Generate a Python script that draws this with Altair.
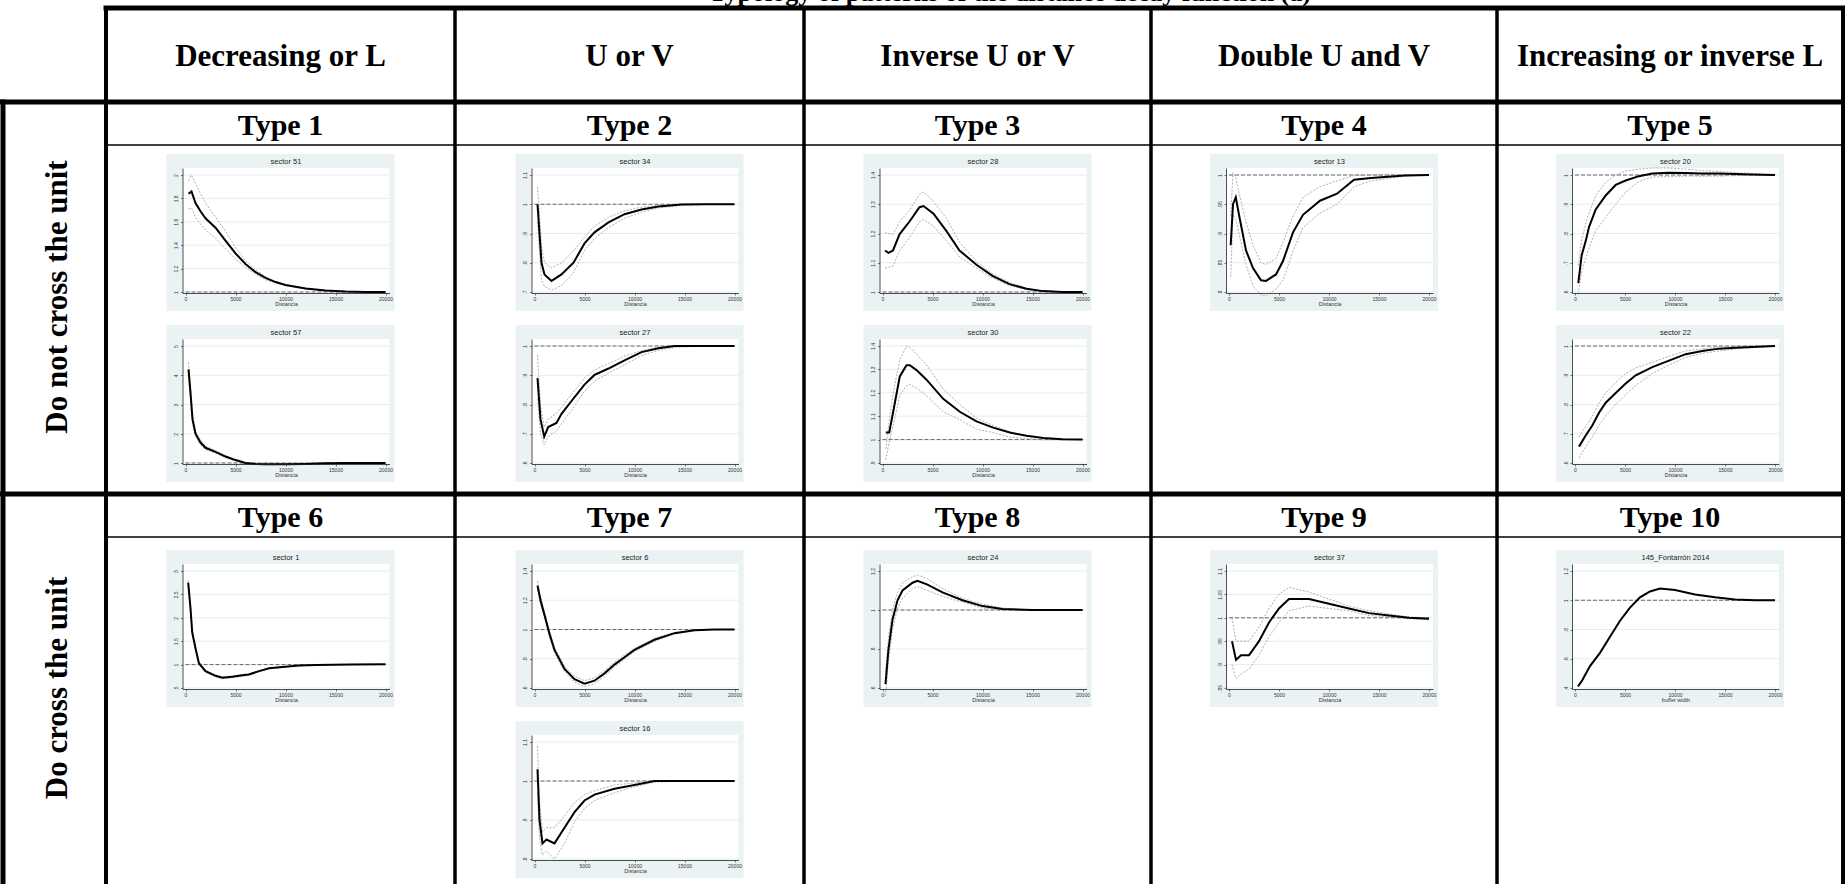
import altair as alt
import pandas as pd

CANVAS_W, CANVAS_H = 1845, 884

# ---------------------------------------------------------------- table text
figure_title = "Typology of patterns of the distance decay function (a)"
col_titles = ["Decreasing or L", "U or V", "Inverse U or V",
              "Double U and V", "Increasing or inverse L"]
row_titles = ["Do not cross the unit", "Do cross the unit"]
type_labels = ["Type 1", "Type 2", "Type 3", "Type 4", "Type 5",
               "Type 6", "Type 7", "Type 8", "Type 9", "Type 10"]

# ---------------------------------------------------------------- small graphs
X_TICKS = [0, 5000, 10000, 15000, 20000]

panels = [
    # row 0 -- do not cross the unit
    dict(title="sector 51", row=0, col=0, slot=0, xtitle="Distancia",
         yticks=[1, 1.2, 1.4, 1.6, 1.8, 2],
         dist=[300, 600, 1000, 1500, 2000, 3000, 4000, 5000, 6000, 7000, 8000, 9000, 10000, 12000, 14000, 16000, 18000, 20000],
         main=[1.84, 1.86, 1.76, 1.69, 1.63, 1.55, 1.44, 1.33, 1.24, 1.17, 1.12, 1.085, 1.06, 1.03, 1.012, 1.004, 1.0, 1.0],
         upper=[1.95, 2.0, 1.93, 1.84, 1.76, 1.64, 1.52, 1.38, 1.27, 1.19, 1.13, 1.09, 1.065, 1.034, 1.014, 1.005, 1.001, 1.0],
         lower=[1.71, 1.72, 1.64, 1.58, 1.53, 1.46, 1.37, 1.28, 1.21, 1.15, 1.105, 1.078, 1.055, 1.026, 1.01, 1.003, 0.999, 1.0]),
    dict(title="sector 57", row=0, col=0, slot=1, xtitle="Distancia",
         yticks=[1, 2, 3, 4, 5],
         dist=[300, 500, 700, 1000, 1500, 2000, 3000, 4000, 5000, 6000, 7000, 8000, 10000, 12000, 14000, 16000, 18000, 20000],
         main=[4.2, 3.4, 2.5, 2.0, 1.7, 1.52, 1.38, 1.22, 1.1, 1.0, 0.97, 0.96, 0.96, 0.97, 0.99, 1.0, 1.0, 1.0],
         upper=[4.45, 3.65, 2.65, 2.1, 1.78, 1.58, 1.42, 1.26, 1.12, 1.02, 0.99, 0.98, 0.98, 0.985, 1.0, 1.005, 1.003, 1.0],
         lower=[3.95, 3.2, 2.35, 1.9, 1.62, 1.46, 1.34, 1.18, 1.07, 0.98, 0.955, 0.945, 0.945, 0.955, 0.98, 0.995, 0.998, 1.0]),
    dict(title="sector 34", row=0, col=1, slot=0, xtitle="Distancia",
         yticks=[0.7, 0.8, 0.9, 1, 1.1],
         dist=[300, 500, 700, 1000, 1700, 2700, 3900, 5000, 6000, 7400, 9000, 10700, 12400, 14700, 17000, 20000],
         main=[1.0, 0.9, 0.8, 0.76, 0.738, 0.76, 0.80, 0.866, 0.904, 0.938, 0.966, 0.982, 0.992, 0.999, 1.0, 1.0],
         upper=[1.06, 0.97, 0.86, 0.8, 0.782, 0.80, 0.84, 0.888, 0.925, 0.955, 0.978, 0.99, 0.996, 1.0, 1.0, 1.0],
         lower=[0.94, 0.84, 0.74, 0.72, 0.706, 0.722, 0.765, 0.843, 0.882, 0.921, 0.952, 0.973, 0.987, 0.996, 0.999, 1.0]),
    dict(title="sector 27", row=0, col=1, slot=1, xtitle="Distancia",
         yticks=[0.6, 0.7, 0.8, 0.9, 1],
         dist=[300, 600, 970, 1370, 2200, 2700, 3700, 5000, 6000, 7400, 9000, 10700, 12400, 14000, 17000, 20000],
         main=[0.89, 0.75, 0.69, 0.723, 0.737, 0.768, 0.812, 0.868, 0.901, 0.923, 0.951, 0.979, 0.992, 1.0, 1.0, 1.0],
         upper=[0.97, 0.8, 0.723, 0.75, 0.77, 0.79, 0.835, 0.89, 0.918, 0.94, 0.965, 0.984, 0.997, 1.0, 1.0, 1.0],
         lower=[0.82, 0.7, 0.662, 0.69, 0.71, 0.734, 0.78, 0.846, 0.88, 0.907, 0.935, 0.968, 0.985, 0.995, 1.0, 1.0]),
    dict(title="sector 28", row=0, col=2, slot=0, xtitle="Distancia",
         yticks=[1, 1.1, 1.2, 1.3, 1.4],
         dist=[250, 600, 1050, 1700, 2700, 3700, 4100, 5100, 6400, 7700, 9400, 11000, 12700, 14400, 16000, 18000, 20000],
         main=[1.142, 1.134, 1.142, 1.197, 1.241, 1.29, 1.294, 1.268, 1.208, 1.142, 1.093, 1.055, 1.027, 1.011, 1.003, 1.0, 1.0],
         upper=[1.203, 1.2, 1.197, 1.24, 1.279, 1.334, 1.342, 1.31, 1.252, 1.17, 1.104, 1.062, 1.033, 1.013, 1.005, 1.001, 1.0],
         lower=[1.082, 1.085, 1.088, 1.14, 1.186, 1.24, 1.247, 1.225, 1.175, 1.12, 1.082, 1.048, 1.022, 1.008, 1.002, 0.999, 1.0]),
    dict(title="sector 30", row=0, col=2, slot=1, xtitle="Distancia",
         yticks=[0.9, 1, 1.1, 1.2, 1.3, 1.4],
         dist=[330, 670, 1070, 1730, 2400, 2730, 3400, 4400, 6070, 7730, 9400, 11070, 12730, 14400, 16070, 18000, 20000],
         main=[1.03, 1.03, 1.119, 1.27, 1.318, 1.318, 1.297, 1.256, 1.174, 1.119, 1.078, 1.051, 1.03, 1.016, 1.007, 1.002, 1.0],
         upper=[0.96, 1.08, 1.2, 1.34, 1.40, 1.395, 1.365, 1.32, 1.215, 1.15, 1.092, 1.06, 1.033, 1.018, 1.008, 1.002, 1.0],
         lower=[0.914, 0.99, 1.06, 1.19, 1.23, 1.236, 1.22, 1.188, 1.119, 1.085, 1.044, 1.03, 1.01, 1.005, 0.999, 0.999, 1.0]),
    dict(title="sector 13", row=0, col=3, slot=0, xtitle="Distancia",
         yticks=[0.8, 0.85, 0.9, 0.95, 1],
         dist=[170, 400, 680, 1000, 1700, 2400, 3200, 3700, 4700, 5400, 6400, 7400, 9100, 10800, 12500, 14200, 17600, 20000],
         main=[0.88, 0.95, 0.962, 0.932, 0.871, 0.841, 0.82, 0.819, 0.83, 0.853, 0.902, 0.932, 0.956, 0.968, 0.992, 0.995, 0.999, 1.0],
         upper=[0.93, 1.004, 0.995, 0.97, 0.92, 0.88, 0.85, 0.847, 0.857, 0.885, 0.93, 0.962, 0.98, 0.99, 0.999, 1.0, 1.0, 1.0],
         lower=[0.826, 0.932, 0.925, 0.9, 0.847, 0.81, 0.795, 0.793, 0.805, 0.82, 0.87, 0.91, 0.935, 0.95, 0.98, 0.99, 0.998, 1.0]),
    dict(title="sector 20", row=0, col=4, slot=0, xtitle="Distancia",
         yticks=[0.6, 0.7, 0.8, 0.9, 1],
         dist=[330, 670, 1070, 1400, 2070, 3070, 4070, 5070, 6400, 7730, 9400, 11070, 12730, 14400, 17730, 20000],
         main=[0.63, 0.726, 0.774, 0.822, 0.882, 0.93, 0.966, 0.981, 0.996, 1.005, 1.008, 1.007, 1.005, 1.005, 1.002, 1.0],
         upper=[0.69, 0.78, 0.834, 0.87, 0.93, 0.975, 1.0, 1.014, 1.02, 1.024, 1.024, 1.02, 1.015, 1.012, 1.005, 1.0],
         lower=[0.594, 0.67, 0.714, 0.75, 0.81, 0.855, 0.9, 0.942, 0.978, 0.993, 0.995, 0.996, 0.996, 0.996, 1.0, 1.0]),
    dict(title="sector 22", row=0, col=4, slot=1, xtitle="Distancia",
         yticks=[0.6, 0.7, 0.8, 0.9, 1],
         dist=[400, 1070, 1730, 2400, 3070, 4070, 5070, 6070, 7730, 9400, 11070, 12730, 14400, 16070, 17730, 20000],
         main=[0.656, 0.694, 0.728, 0.772, 0.806, 0.839, 0.872, 0.9, 0.928, 0.95, 0.972, 0.983, 0.991, 0.994, 0.997, 1.0],
         upper=[0.689, 0.725, 0.761, 0.805, 0.839, 0.875, 0.906, 0.925, 0.944, 0.965, 0.983, 0.99, 0.997, 0.998, 0.999, 1.0],
         lower=[0.617, 0.655, 0.689, 0.728, 0.761, 0.8, 0.833, 0.865, 0.906, 0.935, 0.961, 0.975, 0.983, 0.99, 0.994, 1.0]),
    # row 1 -- do cross the unit
    dict(title="sector 1", row=1, col=0, slot=0, xtitle="Distancia",
         yticks=[0.5, 1, 1.5, 2, 2.5, 3],
         dist=[270, 500, 670, 1000, 1340, 2000, 3000, 3680, 4680, 5690, 6350, 7360, 8360, 9700, 11370, 13040, 16390, 20000],
         main=[2.75, 2.2, 1.69, 1.35, 1.03, 0.86, 0.76, 0.72, 0.74, 0.77, 0.79, 0.86, 0.92, 0.95, 0.98, 0.993, 1.0, 1.005],
         upper=[2.8, 2.25, 1.73, 1.38, 1.06, 0.88, 0.78, 0.74, 0.76, 0.79, 0.81, 0.875, 0.93, 0.96, 0.985, 0.996, 1.002, 1.006],
         lower=[2.7, 2.15, 1.65, 1.32, 1.0, 0.84, 0.74, 0.70, 0.72, 0.75, 0.77, 0.845, 0.91, 0.94, 0.975, 0.99, 0.998, 1.004]),
    dict(title="sector 6", row=1, col=1, slot=0, xtitle="Distancia",
         yticks=[0.6, 0.8, 1, 1.2, 1.4],
         dist=[300, 600, 1000, 1500, 2000, 3000, 4000, 5000, 6000, 7000, 8000, 9000, 10000, 12000, 14000, 16000, 18000, 20000],
         main=[1.3, 1.2, 1.1, 0.97, 0.86, 0.73, 0.66, 0.63, 0.65, 0.7, 0.76, 0.81, 0.86, 0.93, 0.975, 0.995, 1.0, 1.0],
         upper=[1.33, 1.23, 1.12, 0.99, 0.88, 0.75, 0.68, 0.65, 0.67, 0.72, 0.775, 0.825, 0.87, 0.94, 0.98, 0.997, 1.0, 1.0],
         lower=[1.27, 1.17, 1.08, 0.95, 0.84, 0.71, 0.64, 0.61, 0.63, 0.68, 0.745, 0.795, 0.85, 0.92, 0.97, 0.993, 1.0, 1.0]),
    dict(title="sector 16", row=1, col=1, slot=1, xtitle="Distancia",
         yticks=[0.8, 0.9, 1, 1.1],
         dist=[300, 500, 800, 1200, 2000, 3000, 4000, 5000, 6000, 8000, 10000, 12000, 15000, 20000],
         main=[1.03, 0.9, 0.84, 0.85, 0.84, 0.88, 0.92, 0.95, 0.965, 0.98, 0.99, 1.0, 1.0, 1.0],
         upper=[1.09, 0.95, 0.87, 0.88, 0.88, 0.91, 0.945, 0.965, 0.975, 0.99, 0.995, 1.0, 1.0, 1.0],
         lower=[0.97, 0.85, 0.81, 0.82, 0.80, 0.84, 0.895, 0.93, 0.95, 0.97, 0.985, 0.997, 1.0, 1.0]),
    dict(title="sector 24", row=1, col=2, slot=0, xtitle="Distancia",
         yticks=[0.6, 0.8, 1, 1.2],
         dist=[300, 600, 1000, 1500, 2000, 3000, 3500, 4500, 6000, 8000, 10000, 12000, 15000, 20000],
         main=[0.62, 0.8, 0.95, 1.05, 1.1, 1.14, 1.15, 1.13, 1.09, 1.05, 1.02, 1.005, 1.0, 1.0],
         upper=[0.68, 0.86, 1.0, 1.09, 1.14, 1.17, 1.18, 1.16, 1.11, 1.06, 1.03, 1.01, 1.0, 1.0],
         lower=[0.56, 0.74, 0.9, 1.01, 1.06, 1.11, 1.12, 1.10, 1.07, 1.04, 1.01, 1.0, 1.0, 1.0]),
    dict(title="sector 37", row=1, col=3, slot=0, xtitle="Distancia",
         yticks=[0.85, 0.9, 0.95, 1, 1.05, 1.1],
         dist=[300, 700, 1200, 2000, 3000, 4000, 5000, 6000, 7000, 8000, 10000, 12000, 14000, 16000, 18000, 20000],
         main=[0.95, 0.91, 0.92, 0.92, 0.95, 0.99, 1.02, 1.04, 1.04, 1.04, 1.03, 1.02, 1.01, 1.005, 1.0, 0.998],
         upper=[1.0, 0.95, 0.95, 0.95, 0.98, 1.02, 1.05, 1.065, 1.06, 1.055, 1.04, 1.025, 1.015, 1.008, 1.002, 1.0],
         lower=[0.9, 0.87, 0.88, 0.89, 0.92, 0.96, 0.99, 1.015, 1.02, 1.025, 1.02, 1.015, 1.005, 1.002, 0.998, 0.996]),
    dict(title="145_Fontarrón 2014", row=1, col=4, slot=0, xtitle="buffer width",
         yticks=[0.4, 0.6, 0.8, 1, 1.2],
         dist=[300, 700, 1500, 2500, 3500, 4500, 5500, 6500, 7500, 8500, 10000, 12000, 14000, 16000, 18000, 20000],
         main=[0.41, 0.45, 0.55, 0.64, 0.75, 0.86, 0.95, 1.02, 1.06, 1.08, 1.07, 1.04, 1.02, 1.005, 1.0, 1.0],
         upper=None, lower=None),
]

# ---------------------------------------------------------------- layout
COL_EDGES = [106, 455, 804, 1151, 1497, 1843]
HEAD_TOP, HEAD_BOTTOM = 8, 102
ROW_SPLIT = 494
TYPE_RULES = [145, 537]
TYPE_LABEL_Y = [126, 518]
ROW_LABEL_Y = [297, 688]
BOX_W, BOX_H = 228, 157
BOX_TOPS = [[154, 325], [550, 721]]

GRAPH_BG = "#eaf2f3"
GRID_COL = "#dfe8ea"
SERIF = "Liberation Serif"
SANS = "Liberation Sans"


def col_center(c):
    return (COL_EDGES[c] + COL_EDGES[c + 1]) / 2


def geometry(p):
    left = col_center(p["col"]) - BOX_W / 2
    top = BOX_TOPS[p["row"]][p["slot"]]
    return dict(box_l=left, box_t=top, box_r=left + BOX_W, box_b=top + BOX_H,
                pl=left + 16, pr=left + 223, pt=top + 14, pb=top + 139)


def px(field):
    return alt.X(field, type="quantitative", scale=None, axis=None)


def py(field):
    return alt.Y(field, type="quantitative", scale=None, axis=None)


# table rules
rules = []
for e in COL_EDGES:
    rules.append(dict(x=e, x2=e, y=HEAD_TOP, y2=CANVAS_H, w=4 if e in (106, 1843) else 3.5))
rules += [
    dict(x=COL_EDGES[0], x2=CANVAS_W, y=HEAD_TOP, y2=HEAD_TOP, w=5),
    dict(x=0, x2=CANVAS_W, y=HEAD_BOTTOM, y2=HEAD_BOTTOM, w=5),
    dict(x=0, x2=CANVAS_W, y=ROW_SPLIT, y2=ROW_SPLIT, w=5),
    dict(x=3, x2=3, y=HEAD_BOTTOM, y2=CANVAS_H, w=5),
]
for ty in TYPE_RULES:
    rules.append(dict(x=COL_EDGES[0], x2=CANVAS_W, y=ty, y2=ty, w=1.6))
rules_df = pd.DataFrame(rules)

table = alt.Chart(rules_df).mark_rule(color="black", strokeCap="square").encode(
    x=px("x"), x2="x2", y=py("y"), y2="y2",
    strokeWidth=alt.StrokeWidth("w:Q", scale=None, legend=None),
)

head_df = pd.DataFrame({"label": col_titles,
                        "x": [col_center(c) for c in range(5)],
                        "y": [(HEAD_TOP + HEAD_BOTTOM) / 2 + 2] * 5})
heads = alt.Chart(head_df).mark_text(font=SERIF, fontWeight="bold", fontSize=31,
                                     baseline="middle", color="black").encode(
    x=px("x"), y=py("y"), text="label:N")

type_df = pd.DataFrame({"label": type_labels,
                        "x": [col_center(i % 5) for i in range(10)],
                        "y": [TYPE_LABEL_Y[i // 5] for i in range(10)]})
types = alt.Chart(type_df).mark_text(font=SERIF, fontWeight="bold", fontSize=30,
                                     baseline="middle", color="black").encode(
    x=px("x"), y=py("y"), text="label:N")

rowlab_df = pd.DataFrame({"label": row_titles, "x": [58, 58], "y": ROW_LABEL_Y})
rowlabs = alt.Chart(rowlab_df).mark_text(font=SERIF, fontWeight="bold", fontSize=31,
                                         baseline="middle", angle=270, color="black").encode(
    x=px("x"), y=py("y"), text="label:N")

title_df = pd.DataFrame({"label": [figure_title], "x": [1010], "y": [1]})
title = alt.Chart(title_df).mark_text(font=SERIF, fontWeight="bold", fontSize=26,
                                      baseline="alphabetic", color="black").encode(
    x=px("x"), y=py("y"), text="label:N")

# graph regions, plot regions and graph titles
geo = [geometry(p) for p in panels]
box_df = pd.DataFrame([{"x": g["box_l"], "x2": g["box_r"], "y": g["box_t"], "y2": g["box_b"]} for g in geo])
plot_df = pd.DataFrame([{"x": g["pl"], "x2": g["pr"], "y": g["pt"], "y2": g["pb"]} for g in geo])
gtitle_df = pd.DataFrame([{"label": p["title"], "x": (g["pl"] + g["pr"]) / 2, "y": g["box_t"] + 8}
                          for p, g in zip(panels, geo)])

boxes = alt.Chart(box_df).mark_rect(color=GRAPH_BG).encode(x=px("x"), x2="x2", y=py("y"), y2="y2")
plots = alt.Chart(plot_df).mark_rect(color="white").encode(x=px("x"), x2="x2", y=py("y"), y2="y2")
gtitles = alt.Chart(gtitle_df).mark_text(font=SANS, fontSize=7.5, color="#222",
                                         baseline="middle").encode(
    x=px("x"), y=py("y"), text="label:N")


def small_graph_layers(p, g):
    """Every layer of one small graph; each carries the same explicit scales."""
    # x: 0 sits 3 px inside the plot region, 20000 sits 4 px inside
    x0, x1 = g["pl"] + 3, g["pr"] - 4
    dpx = 20000 / (x1 - x0)
    xdom = [0 - (x0 - g["pl"]) * dpx, 20000 + (g["pr"] - x1) * dpx]
    ymin, ymax = min(p["yticks"]), max(p["yticks"])
    y0, y1 = g["pb"] - 1, g["pt"] + 7
    dpy = (ymax - ymin) / (y0 - y1)
    ydom = [ymin - (g["pb"] - y0) * dpy, ymax + (y1 - g["pt"]) * dpy]

    def xs():
        return alt.Scale(domain=xdom, range=[g["pl"], g["pr"]], nice=False, zero=False)

    def ys():
        return alt.Scale(domain=ydom, range=[g["pb"], g["pt"]], nice=False, zero=False)

    xaxis = alt.Axis(values=X_TICKS, format="d", orient="bottom", offset=g["pb"] - CANVAS_H,
                     title=p["xtitle"], titleFont=SANS, titleFontSize=5.5, titleFontWeight="normal",
                     titleColor="#333", titlePadding=0,
                     labelFont=SANS, labelFontSize=5, labelColor="#333", labelPadding=1,
                     tickSize=2, tickWidth=0.6, tickColor="#222", domainColor="#222", domainWidth=0.8,
                     grid=False, zindex=1, labelFlush=False, labelOverlap=False)
    yaxis = alt.Axis(values=p["yticks"], orient="left", offset=-g["pl"], title=None,
                     labelExpr="datum.value > 0 && datum.value < 1 ? slice(toString(datum.value), 1) : toString(datum.value)",
                     labelAngle=270, labelFont=SANS, labelFontSize=5, labelColor="#333", labelPadding=2,
                     tickSize=2, tickWidth=0.6, tickColor="#222", domainColor="#222", domainWidth=0.8,
                     grid=False, zindex=1, labelFlush=False, labelOverlap=False)

    grid = alt.Chart(pd.DataFrame({"tick": p["yticks"]})).mark_rule(
        color=GRID_COL, strokeWidth=0.8).encode(
        y=alt.Y("tick:Q", scale=ys(), axis=None),
        x=alt.value(g["pl"]), x2=alt.value(g["pr"]))
    ref = alt.Chart(pd.DataFrame({"one": [1.0]})).mark_rule(
        color="#444", strokeWidth=0.8, strokeDash=[4, 2]).encode(
        y=alt.Y("one:Q", scale=ys(), axis=None),
        x=alt.value(g["pl"] + 3), x2=alt.value(g["pr"] - 4))

    layers = [grid, ref]
    if p["upper"] is not None:
        ci = pd.concat([
            pd.DataFrame({"dist": p["dist"], "ratio": p["upper"], "band": "upper"}),
            pd.DataFrame({"dist": p["dist"], "ratio": p["lower"], "band": "lower"}),
        ])
        layers.append(alt.Chart(ci).mark_line(color="#9a9a9a", strokeWidth=0.8,
                                              strokeDash=[2, 1.5]).encode(
            x=alt.X("dist:Q", scale=xs(), axis=None),
            y=alt.Y("ratio:Q", scale=ys(), axis=None),
            detail="band:N"))
    main = pd.DataFrame({"dist": p["dist"], "ratio": p["main"]})
    layers.append(alt.Chart(main).mark_line(color="black", strokeWidth=2).encode(
        x=alt.X("dist:Q", scale=xs(), axis=xaxis),
        y=alt.Y("ratio:Q", scale=ys(), axis=yaxis)))
    return layers


graph_layers = []
for p, g in zip(panels, geo):
    graph_layers += small_graph_layers(p, g)

chart = alt.layer(
    boxes, plots, gtitles, *graph_layers, table, heads, types, rowlabs, title
).resolve_scale(x="independent", y="independent").resolve_axis(
    x="independent", y="independent"
).properties(
    width=CANVAS_W, height=CANVAS_H,
    autosize=alt.AutoSizeParams(type="none"),
    padding=0,
    background="white",
).configure_view(stroke=None)

chart.save("out.html", embed_options={"renderer": "svg", "actions": False})
